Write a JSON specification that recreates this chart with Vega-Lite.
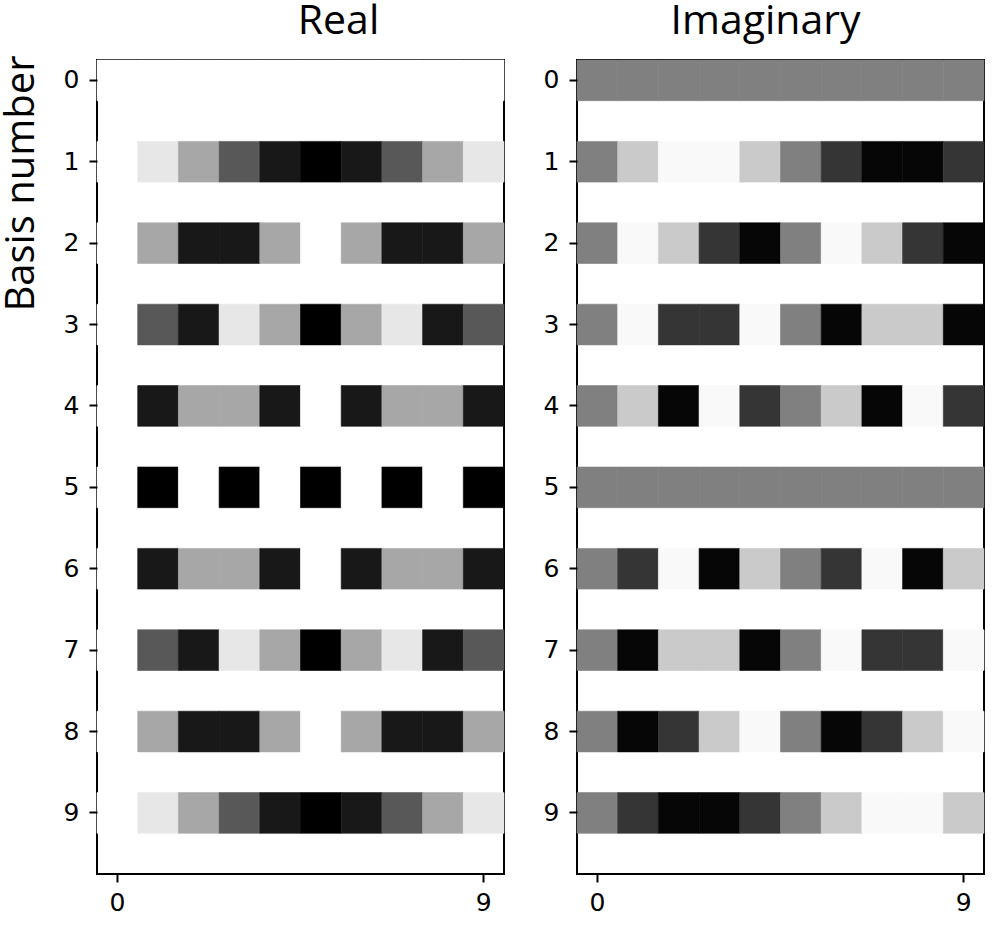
{
  "$schema": "https://vega.github.io/schema/vega-lite/v6.json",
  "background": "white",
  "padding": {"left": -1, "top": -1, "right": 5, "bottom": 5},
  "data": {"values": [
    {"k":0,"n":0,"re":1,"im":0},{"k":0,"n":1,"re":1,"im":0},{"k":0,"n":2,"re":1,"im":0},{"k":0,"n":3,"re":1,"im":0},{"k":0,"n":4,"re":1,"im":0},{"k":0,"n":5,"re":1,"im":0},{"k":0,"n":6,"re":1,"im":0},{"k":0,"n":7,"re":1,"im":0},{"k":0,"n":8,"re":1,"im":0},{"k":0,"n":9,"re":1,"im":0},
    {"k":1,"n":0,"re":1,"im":0},{"k":1,"n":1,"re":0.809,"im":0.588},{"k":1,"n":2,"re":0.309,"im":0.951},{"k":1,"n":3,"re":-0.309,"im":0.951},{"k":1,"n":4,"re":-0.809,"im":0.588},{"k":1,"n":5,"re":-1,"im":0},{"k":1,"n":6,"re":-0.809,"im":-0.588},{"k":1,"n":7,"re":-0.309,"im":-0.951},{"k":1,"n":8,"re":0.309,"im":-0.951},{"k":1,"n":9,"re":0.809,"im":-0.588},
    {"k":2,"n":0,"re":1,"im":0},{"k":2,"n":1,"re":0.309,"im":0.951},{"k":2,"n":2,"re":-0.809,"im":0.588},{"k":2,"n":3,"re":-0.809,"im":-0.588},{"k":2,"n":4,"re":0.309,"im":-0.951},{"k":2,"n":5,"re":1,"im":0},{"k":2,"n":6,"re":0.309,"im":0.951},{"k":2,"n":7,"re":-0.809,"im":0.588},{"k":2,"n":8,"re":-0.809,"im":-0.588},{"k":2,"n":9,"re":0.309,"im":-0.951},
    {"k":3,"n":0,"re":1,"im":0},{"k":3,"n":1,"re":-0.309,"im":0.951},{"k":3,"n":2,"re":-0.809,"im":-0.588},{"k":3,"n":3,"re":0.809,"im":-0.588},{"k":3,"n":4,"re":0.309,"im":0.951},{"k":3,"n":5,"re":-1,"im":0},{"k":3,"n":6,"re":0.309,"im":-0.951},{"k":3,"n":7,"re":0.809,"im":0.588},{"k":3,"n":8,"re":-0.809,"im":0.588},{"k":3,"n":9,"re":-0.309,"im":-0.951},
    {"k":4,"n":0,"re":1,"im":0},{"k":4,"n":1,"re":-0.809,"im":0.588},{"k":4,"n":2,"re":0.309,"im":-0.951},{"k":4,"n":3,"re":0.309,"im":0.951},{"k":4,"n":4,"re":-0.809,"im":-0.588},{"k":4,"n":5,"re":1,"im":0},{"k":4,"n":6,"re":-0.809,"im":0.588},{"k":4,"n":7,"re":0.309,"im":-0.951},{"k":4,"n":8,"re":0.309,"im":0.951},{"k":4,"n":9,"re":-0.809,"im":-0.588},
    {"k":5,"n":0,"re":1,"im":0},{"k":5,"n":1,"re":-1,"im":0},{"k":5,"n":2,"re":1,"im":0},{"k":5,"n":3,"re":-1,"im":0},{"k":5,"n":4,"re":1,"im":0},{"k":5,"n":5,"re":-1,"im":0},{"k":5,"n":6,"re":1,"im":0},{"k":5,"n":7,"re":-1,"im":0},{"k":5,"n":8,"re":1,"im":0},{"k":5,"n":9,"re":-1,"im":0},
    {"k":6,"n":0,"re":1,"im":0},{"k":6,"n":1,"re":-0.809,"im":-0.588},{"k":6,"n":2,"re":0.309,"im":0.951},{"k":6,"n":3,"re":0.309,"im":-0.951},{"k":6,"n":4,"re":-0.809,"im":0.588},{"k":6,"n":5,"re":1,"im":0},{"k":6,"n":6,"re":-0.809,"im":-0.588},{"k":6,"n":7,"re":0.309,"im":0.951},{"k":6,"n":8,"re":0.309,"im":-0.951},{"k":6,"n":9,"re":-0.809,"im":0.588},
    {"k":7,"n":0,"re":1,"im":0},{"k":7,"n":1,"re":-0.309,"im":-0.951},{"k":7,"n":2,"re":-0.809,"im":0.588},{"k":7,"n":3,"re":0.809,"im":0.588},{"k":7,"n":4,"re":0.309,"im":-0.951},{"k":7,"n":5,"re":-1,"im":0},{"k":7,"n":6,"re":0.309,"im":0.951},{"k":7,"n":7,"re":0.809,"im":-0.588},{"k":7,"n":8,"re":-0.809,"im":-0.588},{"k":7,"n":9,"re":-0.309,"im":0.951},
    {"k":8,"n":0,"re":1,"im":0},{"k":8,"n":1,"re":0.309,"im":-0.951},{"k":8,"n":2,"re":-0.809,"im":-0.588},{"k":8,"n":3,"re":-0.809,"im":0.588},{"k":8,"n":4,"re":0.309,"im":0.951},{"k":8,"n":5,"re":1,"im":0},{"k":8,"n":6,"re":0.309,"im":-0.951},{"k":8,"n":7,"re":-0.809,"im":-0.588},{"k":8,"n":8,"re":-0.809,"im":0.588},{"k":8,"n":9,"re":0.309,"im":0.951},
    {"k":9,"n":0,"re":1,"im":0},{"k":9,"n":1,"re":0.809,"im":-0.588},{"k":9,"n":2,"re":0.309,"im":-0.951},{"k":9,"n":3,"re":-0.309,"im":-0.951},{"k":9,"n":4,"re":-0.809,"im":-0.588},{"k":9,"n":5,"re":-1,"im":0},{"k":9,"n":6,"re":-0.809,"im":0.588},{"k":9,"n":7,"re":-0.309,"im":0.951},{"k":9,"n":8,"re":0.309,"im":0.951},{"k":9,"n":9,"re":0.809,"im":0.588}
  ]},
  "spacing": 73,
  "bounds": "flush",
  "config": {
    "view": {"stroke": "black", "strokeWidth": 2},
    "font": "Open Sans",
    "title": {"font": "Open Sans", "fontSize": 41, "fontWeight": "normal", "color": "black", "frame": "group", "anchor": "middle", "baseline": "alphabetic", "offset": 17},
    "axis": {"labelFont": "DejaVu Sans", "labelFontSize": 25, "labelColor": "black", "tickColor": "black", "tickWidth": 2, "tickSize": 8, "domain": false, "grid": false, "labelAngle": 0, "titleFont": "Open Sans", "titleFontWeight": "normal", "titleFontSize": 40, "titleColor": "black"}
  },
  "hconcat": [
    {
      "title": {"text": "Real", "dx": 38, "dy": 5},
      "width": 407,
      "height": 814,
      "mark": {"type": "rect", "strokeWidth": 0.6},
      "encoding": {
        "x": {"field": "n", "type": "ordinal", "scale": {"paddingInner": 0, "paddingOuter": 0}, "axis": {"values": [0, 9], "title": null, "labelPadding": 8}},
        "y": {"field": "k", "type": "ordinal", "scale": {"paddingInner": 0.5, "paddingOuter": 0.25, "align": 0}, "axis": {"title": "Basis number", "labelPadding": 10, "titleAngle": -90, "titleAlign": "center", "titleBaseline": "alphabetic", "titleX": -64, "titleY": 123}},
        "color": {"field": "re", "type": "quantitative", "scale": {"domain": [-1, 1], "range": ["#000000", "#ffffff"], "interpolate": "rgb"}, "legend": null},
        "stroke": {"field": "re", "type": "quantitative", "scale": {"domain": [-1, 1], "range": ["#000000", "#ffffff"], "interpolate": "rgb"}, "legend": null}
      }
    },
    {
      "title": {"text": "Imaginary", "dx": -15},
      "width": 407,
      "height": 814,
      "mark": {"type": "rect", "strokeWidth": 0.6},
      "encoding": {
        "x": {"field": "n", "type": "ordinal", "scale": {"paddingInner": 0, "paddingOuter": 0}, "axis": {"values": [0, 9], "title": null, "labelPadding": 8}},
        "y": {"field": "k", "type": "ordinal", "scale": {"paddingInner": 0.5, "paddingOuter": 0.25, "align": 0}, "axis": {"title": null, "labelPadding": 10}},
        "color": {"field": "im", "type": "quantitative", "scale": {"domain": [-1, 1], "range": ["#000000", "#ffffff"], "interpolate": "rgb"}, "legend": null},
        "stroke": {"field": "im", "type": "quantitative", "scale": {"domain": [-1, 1], "range": ["#000000", "#ffffff"], "interpolate": "rgb"}, "legend": null}
      }
    }
  ]
}
